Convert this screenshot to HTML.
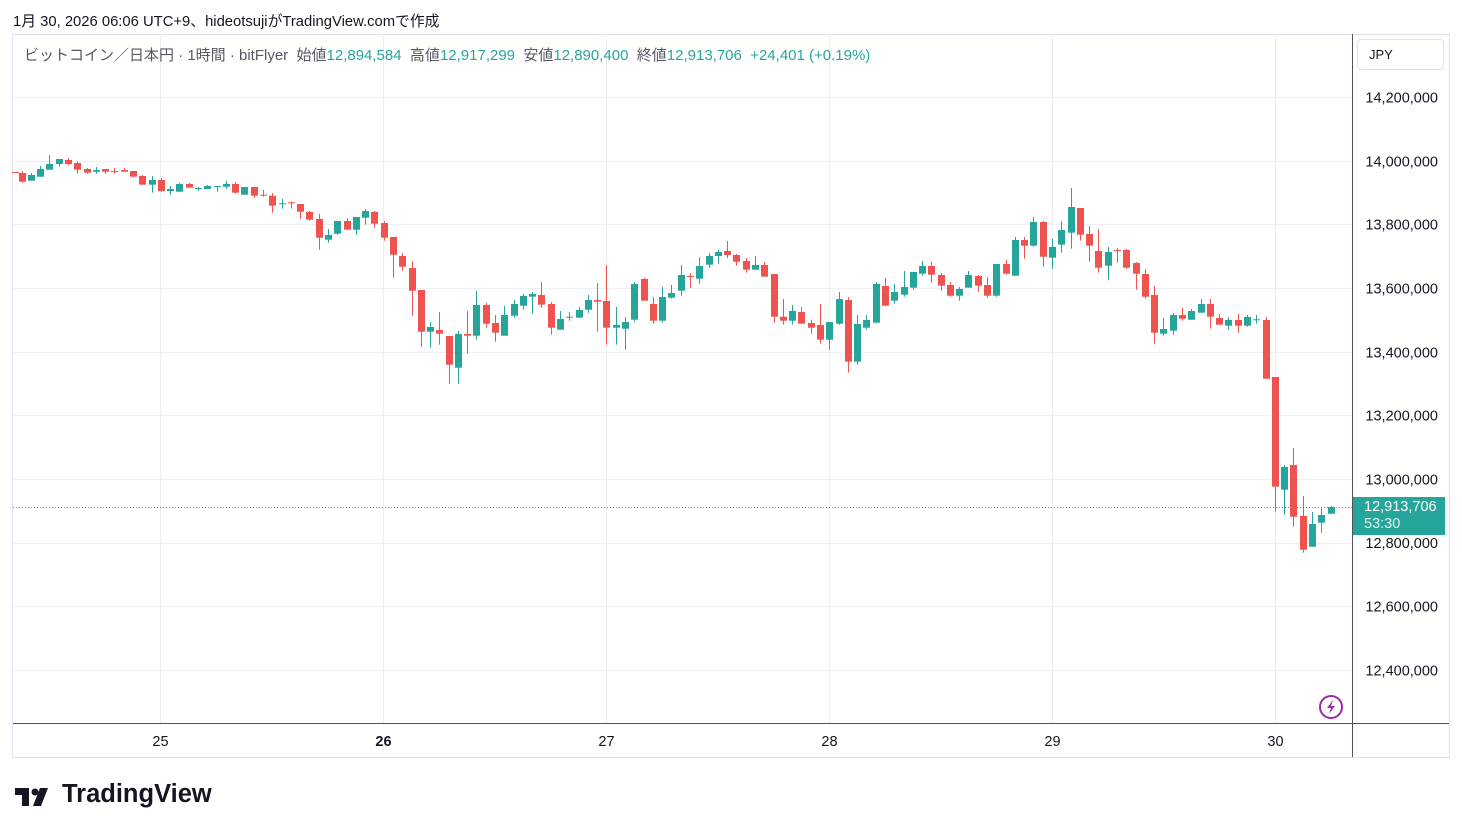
<!DOCTYPE html>
<html><head><meta charset="utf-8">
<style>
html,body{margin:0;padding:0;background:#fff;width:1462px;height:833px;overflow:hidden;font-family:"Liberation Sans","Noto Sans CJK JP",sans-serif;}
.t{position:absolute;white-space:nowrap;}
</style></head>
<body>
<div class="t" style="left:13px;top:10px;font-size:14.8px;color:#131722;">1月 30, 2026 06:06 UTC+9、hideotsujiがTradingView.comで作成</div>
<svg id="c" width="1462" height="833" style="position:absolute;left:0;top:0">
</svg>
<div class="t" style="left:24px;top:44px;font-size:15px;color:#555a66;">ビットコイン／日本円 · 1時間 · bitFlyer&nbsp; 始値<span style="color:#26a69a">12,894,584</span>&nbsp; 高値<span style="color:#26a69a">12,917,299</span>&nbsp; 安値<span style="color:#26a69a">12,890,400</span>&nbsp; 終値<span style="color:#26a69a">12,913,706</span>&nbsp; <span style="color:#26a69a">+24,401 (+0.19%)</span></div>
<div class="t" style="left:1357px;top:39px;width:87px;height:31px;border:1px solid #e0e3eb;border-radius:4px;box-sizing:border-box;font-size:13px;color:#131722;line-height:29px;padding-left:11px;">JPY</div>
<div class="t" style="left:1353px;top:497px;width:92px;height:38px;background:#26a69a;color:#fff;font-size:14.5px;line-height:17px;padding:2px 0 0 11px;box-sizing:border-box;">12,913,706<br><span style="opacity:.85">53:30</span></div>
<div class="t" style="left:62px;top:780px;font-size:25.5px;font-weight:bold;color:#131722;">TradingView</div>
<script>
var s=document.getElementById('c'),h='';
function L(x1,y1,x2,y2,c,w,d){h+='<line x1="'+x1+'" y1="'+y1+'" x2="'+x2+'" y2="'+y2+'" stroke="'+c+'" stroke-width="'+(w||1)+'"'+(d?' stroke-dasharray="'+d+'"':'')+'/>';}
function T(x,y,t,a,c,f,w){h+='<text x="'+x+'" y="'+y+'" text-anchor="'+a+'" fill="'+c+'" font-size="'+f+'"'+(w?' font-weight="bold"':'')+' font-family="Liberation Sans,sans-serif">'+t+'</text>';}
h+='<rect x="12.5" y="34.5" width="1437" height="723" fill="none" stroke="#e0e3eb"/>';
var labs=['14,200,000','14,000,000','13,800,000','13,600,000','13,400,000','13,200,000','13,000,000','12,800,000','12,600,000','12,400,000'];
for(var i=0;i<10;i++){var y=Math.round(97+i*63.67)+0.5;L(13,y,1352,y,'#eceff3');if(i!=7)T(1438,y+5,labs[i],'end','#131722',14.5);}
T(1438,548,'12,800,000','end','#131722',14.5);
var vx=[160,383,606,829,1052,1275],dl=['25','26','27','28','29','30'];
for(var i=0;i<6;i++){L(vx[i]+.5,34,vx[i]+.5,723,'#eceff3');T(vx[i]+.5,746,dl[i],'middle','#131722',14.5,(i==1));}
L(13,723.5,1449,723.5,'#50535e');L(1352.5,34,1352.5,757,'#50535e');
L(13,507.5,1352,507.5,'#26a69a',1,'1 2');
var seg=[[10,140,[
[14,96,98,96,98,'r'],[37,99,125,93,128,'r'],[64,105,122,99,122,'g'],[91,87,110,78,110,'g'],[118,72,89,45,89,'g'],[148,57,72,57,80,'g'],[175,60,72,54,75,'r'],[202,69,89,64,101,'r'],[232,87,98,84,101,'r'],[259,90,95,81,101,'g'],[286,87,95,87,101,'r'],[313,93,95,84,101,'r'],[343,90,95,84,95,'r'],[370,93,110,93,113,'r'],[397,108,134,105,134,'r'],[427,120,134,108,158,'g'],[454,120,153,114,155,'r'],[481,147,153,138,164,'g'],[508,132,155,129,155,'g'],[538,132,143,129,143,'r'],[565,144,147,141,152,'g'],[592,138,147,135,147,'g'],[622,138,140,138,155,'g'],[649,132,140,123,146,'g'],[676,132,158,126,161,'r'],[703,141,164,141,164,'g'],[733,141,167,141,173,'r'],[760,164,167,150,170,'r'],[787,167,197,159,218,'r'],[817,190,192,177,206,'g'],[844,187,190,184,206,'r'],[871,192,215,192,236,'r'],[898,216,239,213,242,'r'],[928,237,293,222,329,'r'],[955,285,299,267,308,'g'],[982,243,281,243,284,'g']]],
[340,200,[
[22,63,89,54,89,'r'],[49,51,89,51,104,'g'],[76,33,53,27,74,'g'],[103,36,71,33,83,'r'],[133,69,113,63,122,'r'],[160,111,164,111,233,'r'],[187,168,200,159,212,'r'],[217,204,272,183,347,'r'],[244,270,395,270,440,'r'],[271,381,395,366,443,'g'],[298,390,401,336,434,'r'],[328,408,494,408,551,'r'],[355,402,503,393,551,'g'],[382,402,407,333,461,'r'],[409,315,407,273,419,'g'],[439,315,371,309,383,'r'],[466,369,398,345,425,'r'],[493,345,407,318,407,'g'],[523,312,347,300,353,'g'],[550,288,317,282,329,'g'],[577,282,290,276,341,'g'],[604,285,314,246,323,'r'],[634,312,383,306,404,'r'],[661,357,389,333,389,'g'],[688,350,353,336,362,'g'],[718,330,353,321,353,'g'],[745,300,329,285,338,'g'],[772,300,305,249,395,'r'],[799,303,383,195,434,'r'],[829,375,383,321,434,'g'],[856,366,386,351,449,'g'],[883,252,359,246,365,'g'],[913,237,302,234,302,'r'],[940,312,362,291,371,'r'],[967,291,362,261,368,'g'],[994,279,293,255,296,'g']]],
[670,180,[
[34,285,332,255,347,'g'],[61,288,290,279,323,'r'],[88,258,296,231,311,'g'],[118,228,254,219,263,'g'],[145,216,228,210,251,'g'],[172,213,225,183,234,'r'],[199,225,245,222,257,'r'],[229,243,269,234,278,'r'],[256,255,269,228,269,'g'],[283,255,290,246,290,'r'],[313,282,410,282,428,'r'],[340,410,422,357,434,'r'],[367,393,422,375,434,'g'],[394,396,431,381,431,'r'],[424,429,443,419,461,'r'],[451,435,479,372,491,'r'],[478,426,479,426,509,'g'],[508,357,431,336,434,'g'],[535,360,545,351,578,'r'],[562,432,545,405,554,'g'],[589,420,443,405,449,'g'],[619,312,428,306,428,'g'],[646,318,377,294,377,'r'],[673,336,362,312,371,'g'],[703,321,344,273,350,'g'],[730,276,323,276,329,'g'],[757,258,281,243,287,'g'],[784,258,284,246,308,'r'],[814,285,317,279,332,'r'],[841,315,347,306,350,'r'],[868,327,347,321,362,'g'],[895,285,323,273,323,'g'],[925,288,317,285,335,'r'],[952,315,347,291,353,'r'],[979,252,347,252,350,'g'],[1009,252,281,240,284,'r']]],
[1000,180,[
[46,180,287,171,287,'g'],[73,180,197,171,236,'r'],[100,126,197,111,200,'g'],[130,126,230,123,260,'r'],[157,201,233,177,266,'g'],[184,150,194,123,218,'g'],[214,81,158,24,206,'g'],[241,84,164,84,182,'r'],[268,162,197,138,245,'r'],[295,213,263,147,278,'r'],[325,216,257,201,299,'g'],[352,210,213,204,248,'r'],[379,210,263,207,266,'r'],[409,249,281,246,329,'r'],[436,282,350,267,356,'r'],[463,345,458,318,491,'r'],[490,447,461,414,467,'g'],[520,405,452,399,464,'g'],[547,405,416,384,422,'r'],[574,393,419,387,419,'g'],[604,372,398,357,398,'g'],[631,372,410,357,446,'r'],[658,414,434,402,434,'r'],[685,420,437,411,449,'g'],[715,420,437,402,458,'r'],[742,411,437,405,440,'g'],[769,418,421,405,431,'g'],[799,420,596,411,596,'r'],[826,591,920,591,995,'r'],[853,861,929,855,1004,'g'],[880,855,1010,804,1040,'r'],[910,1008,1109,948,1118,'r'],[937,1032,1100,996,1100,'g'],[964,1005,1028,981,1058,'g'],[994,981,1001,978,1001,'g']]]];
seg.forEach(function(sg){var ox=sg[0],oy=sg[1];sg[2].forEach(function(c){
var x=ox+c[0]/3,bt=oy+c[1]/3,bb=oy+c[2]/3,wt=oy+c[3]/3,wb=oy+c[4]/3,col=c[5]=='g'?'#26a69a':'#ef5350';
var xc=Math.round(x)+0.5;
h+='<rect x="'+(xc-0.5)+'" y="'+wt.toFixed(1)+'" width="1" height="'+Math.max(1,wb-wt).toFixed(1)+'" fill="'+col+'"/>';
h+='<rect x="'+(xc-3.5)+'" y="'+bt.toFixed(1)+'" width="7" height="'+Math.max(1,bb-bt).toFixed(1)+'" fill="'+col+'"/>';
});});
h+='<circle cx="1331" cy="707" r="11" fill="none" stroke="#9c27b0" stroke-width="2"/>';
h+='<path d="M1333 700 L1327 708 L1331 708 L1329 714 L1335 706 L1331 706 Z" fill="#9c27b0"/>';
h+='<path d="M15 788 H29 V806 H22 V795 H15 Z M33 806 L40 788 H48 L41 806 Z" fill="#131722"/><circle cx="35" cy="792" r="3.5" fill="#131722"/>';
s.innerHTML=h;
</script>
</body></html>
